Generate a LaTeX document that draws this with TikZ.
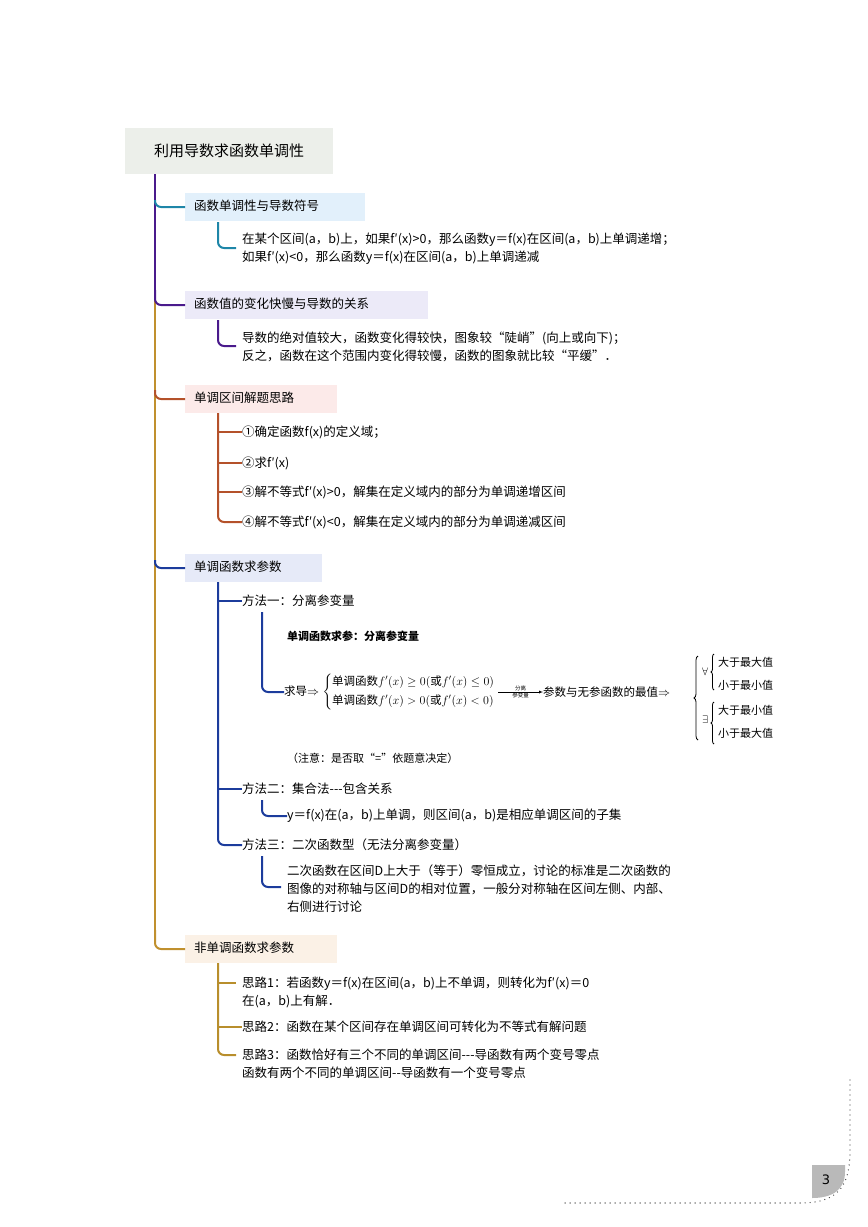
\documentclass[tikz,border=0pt]{standalone}
\usepackage{fontspec}
\usepackage{amsmath}
\usetikzlibrary{calc,positioning,decorations.pathreplacing}
\setmainfont{Noto Sans CJK SC}
\newfontfamily\sym{DejaVu Sans}
\begin{document}
\begin{tikzpicture}[x=1pt,y=-1pt,
  every node/.style={inner sep=0pt,font=\fontsize{12.5}{18}\selectfont},
  branch/.style={anchor=west,minimum height=28pt,text height=9pt,text depth=3pt},
  txt/.style={anchor=west,align=left},
  sm/.style={anchor=west,font=\fontsize{11}{14}\selectfont},
  brc/.style={decorate,decoration={brace,amplitude=4pt},line width=0.8pt},
  link/.style={line width=2pt,rounded corners=6pt}]
\useasboundingbox (0,0) rectangle (868,1227);
\definecolor{cpur}{HTML}{4A1A8C}
\definecolor{cgold}{HTML}{C0902E}
\definecolor{cteal}{HTML}{1E86A8}
\definecolor{crust}{HTML}{B4512A}
\definecolor{cblue}{HTML}{1C3C9C}
\definecolor{cgold2}{HTML}{B88E2C}
% root
\node[fill={rgb,255:red,236;green,239;blue,234},minimum width=208pt,minimum height=46pt,anchor=north west,font=\fontsize{15}{18}\selectfont] (root) at (125,128) {利用导数求函数单调性};
% branches
\node[branch,fill={rgb,255:red,226;green,240;blue,251},minimum width=180pt,text width=162pt,inner xsep=9pt] (b1) at (185,207) {函数单调性与导数符号};
\node[branch,fill={rgb,255:red,236;green,234;blue,248},minimum width=243pt,text width=225pt,inner xsep=9pt] (b2) at (185,305) {函数值的变化快慢与导数的关系};
\node[branch,fill={rgb,255:red,252;green,234;blue,233},minimum width=152pt,text width=134pt,inner xsep=9pt] (b3) at (185,399) {单调区间解题思路};
\node[branch,fill={rgb,255:red,230;green,234;blue,248},minimum width=137pt,text width=119pt,inner xsep=9pt] (b4) at (185,568) {单调函数求参数};
\node[branch,fill={rgb,255:red,251;green,241;blue,230},minimum width=152pt,text width=134pt,inner xsep=9pt] (b5) at (185,949) {非单调函数求参数};
% trunk
\coordinate (t0) at (155,174);
\coordinate (tm) at (155,300);
\draw[cpur,line width=2.4pt] (t0) -- (tm);
\draw[cgold,line width=2.4pt] (tm) -- (155,935);
\draw[link,cteal] (155,200) -- (155,207) -- (b1.west);
\draw[link,cpur] (155,290) -- (155,305) -- (b2.west);
\draw[link,crust] (155,390) -- (155,399) -- (b3.west);
\draw[link,cblue] (155,560) -- (155,568) -- (b4.west);
\draw[link,cgold] (155,930) -- (155,949) -- (b5.west);
% branch 1 content
\node[txt] (s1) at (242,249) {在某个区间(a，b)上，如果f′(x)>0，那么函数y＝f(x)在区间(a，b)上单调递增；\\如果f′(x)<0，那么函数y＝f(x)在区间(a，b)上单调递减};
\draw[link,cteal] (218,222) -- (218,248) -- (236,248);
% branch 2
\node[txt] (s2) at (242,347) {导数的绝对值较大，函数变化得较快，图象较“陡峭”(向上或向下)；\\反之，函数在这个范围内变化得较慢，函数的图象就比较“平缓”．};
\draw[link,cpur] (218,320) -- (218,346) -- (236,346);
% branch 3
\node[txt] (i1) at (242,432) {①确定函数f(x)的定义域；};
\node[txt] (i2) at (242,463) {②求f′(x)};
\node[txt] (i3) at (242,492) {③解不等式f′(x)>0，解集在定义域内的部分为单调递增区间};
\node[txt] (i4) at (242,522) {④解不等式f′(x)<0，解集在定义域内的部分为单调递减区间};
\draw[link,crust] (218,413) -- (218,522) -- (i4.west);
\draw[crust,line width=2pt] (218,432) -- (i1.west) (218,463) -- (i2.west) (218,492) -- (i3.west);
% branch 4
\node[txt] (m1) at (242,601) {方法一：分离参变量};
\node[txt] (m2) at (242,789) {方法二：集合法{-}{-}{-}包含关系};
\node[txt] (m3) at (242,845) {方法三：二次函数型（无法分离参变量）};
\draw[link,cblue] (218,582) -- (218,845) -- (m3.west);
\draw[cblue,line width=2pt] (218,601) -- (m1.west) (218,789) -- (m2.west);
\node[txt,font=\fontsize{11}{14}\selectfont\bfseries] (p0) at (287,636) {单调函数求参：分离参变量};
\node[txt,font=\fontsize{11.5}{14}\selectfont] (p1) at (284,692) {求导$\Rightarrow\left\{\begin{array}{@{}l@{}}\mbox{单调函数}f'(x)\ge0(\mbox{或}f'(x)\le0)\\[5pt]\mbox{单调函数}f'(x)>0(\mbox{或}f'(x)<0)\end{array}\right.$};
\node[txt,font=\fontsize{11.5}{14}\selectfont] (p2) at (543,692) {参数与无参函数的最值$\Rightarrow$};
\coordinate (a0) at ($(p1.east)+(3,0)$);
\draw[-latex] (a0) -- (p2.west);
\node[font=\fontsize{5.5}{6}\selectfont,anchor=south] at ($(a0)!0.5!(p2.west)+(0,-1)$) {分离};
\node[font=\fontsize{5.5}{6}\selectfont,anchor=north] at ($(a0)!0.5!(p2.west)+(0,1)$) {参变量};
% right braces
\coordinate (B0) at (698,740);
\coordinate (B1) at (698,656);
\draw[brc] (B0) -- (B1);
\node[sm] (fa) at (702,672) {$\forall$};
\coordinate (C0) at (714,690);
\coordinate (C1) at (714,654);
\draw[brc,decoration={amplitude=3pt}] (C0) -- (C1);
\node[sm] (q1) at (718,662) {大于最大值};
\node[sm] (q2) at (718,685) {小于最小值};
\node[sm] (ex) at (702,720) {$\exists$};
\coordinate (D0) at (714,744);
\coordinate (D1) at (714,702);
\draw[brc,decoration={amplitude=3pt}] (D0) -- (D1);
\node[sm] (q3) at (718,710) {大于最小值};
\node[sm] (q4) at (718,733) {小于最大值};
\node[txt,font=\fontsize{11}{14}\selectfont] (p4) at (287,758) {（注意：是否取“=”依题意决定）};
\draw[link,cblue] (262,612) -- (262,692) -- (p1.west);
\node[txt] (m2a) at (287,816) {y＝f(x)在(a，b)上单调，则区间(a，b)是相应单调区间的子集};
\draw[link,cblue] (262,800) -- (262,816) -- (m2a.west);
\node[txt] (m3a) at (287,889) {二次函数在区间D上大于（等于）零恒成立，讨论的标准是二次函数的\\图像的对称轴与区间D的相对位置，一般分对称轴在区间左侧、内部、\\右侧进行讨论};
\draw[link,cblue] (262,856) -- (262,887) -- (281,887);
% branch 5
\node[txt] (n1) at (242,992) {思路1：若函数y＝f(x)在区间(a，b)上不单调，则转化为f′(x)＝0\\在(a，b)上有解．};
\node[txt] (n2) at (242,1027) {思路2：函数在某个区间存在单调区间可转化为不等式有解问题};
\node[txt] (n3) at (242,1064) {思路3：函数恰好有三个不同的单调区间{-}{-}{-}导函数有两个变号零点\\函数有两个不同的单调区间{-}{-}导函数有一个变号零点};
\draw[link,cgold2] (218,963) -- (218,1055) -- (236,1055);
\draw[cgold2,line width=2pt] (218,983) -- (236,983) (218,1027) -- (n2.west);
% page decoration
\draw[black!75,line width=1.3pt,line cap=round,dash pattern=on 0pt off 5pt] (850,1080) -- (850,1150) .. controls (850,1190) and (835,1203) .. (800,1203) -- (565,1203);
\fill[gray!55] (812,1165) -- (845,1165) -- (845,1172) .. controls (845,1190) and (832,1198) .. (812,1198) -- cycle;
\node[font=\fontsize{13}{15}\selectfont\sym] (pg) at (826,1180) {3};
\end{tikzpicture}
\end{document}
